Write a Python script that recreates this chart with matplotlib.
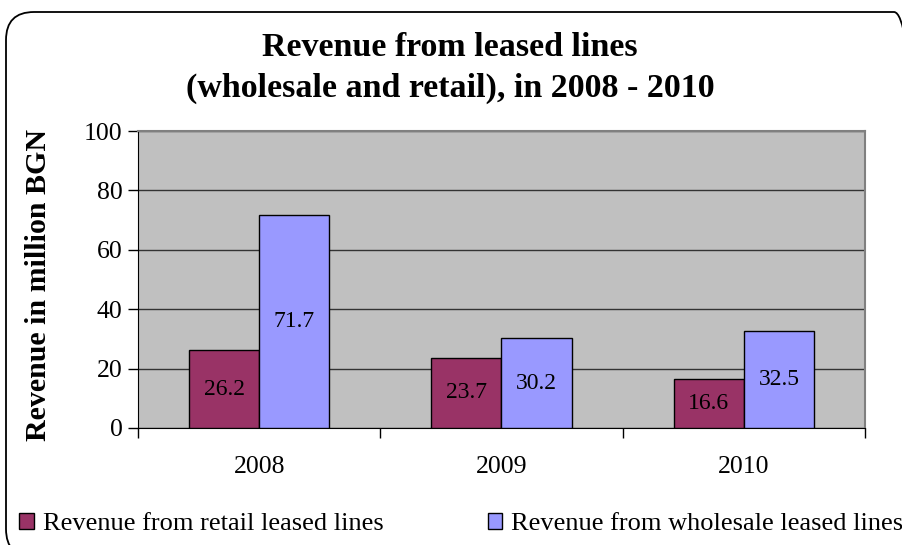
import matplotlib.pyplot as plt
from matplotlib.patches import FancyBboxPatch, Patch
from matplotlib.transforms import IdentityTransform
import numpy as np

years = ["2008", "2009", "2010"]
retail = [26.2, 23.7, 16.6]
wholesale = [71.7, 30.2, 32.5]
series_names = ["Revenue from retail leased lines", "Revenue from wholesale leased lines"]

plt.rcParams['font.family'] = ['Liberation Serif', 'DejaVu Serif']

fig = plt.figure(figsize=(9.03, 5.45), dpi=100)
ax = fig.add_axes([138 / 903, 1 - 428 / 545, (865 - 138) / 903, (428 - 131) / 545])

# rounded frame around the whole chart (pixel coordinates, origin bottom-left)
frame = FancyBboxPatch((6, -12), 916, 545 - 12 + 12,
                       boxstyle="round,pad=0,rounding_size=28",
                       transform=IdentityTransform(), fill=False, ec="black", lw=1.3,
                       zorder=0)
fig.patches.append(frame)

x = np.arange(len(years))
w = 0.29
b1 = ax.bar(x - w / 2, retail, w, color="#993366", edgecolor="black", lw=1, zorder=3)
b2 = ax.bar(x + w / 2, wholesale, w, color="#9999FF", edgecolor="black", lw=1, zorder=3)
ax.bar_label(b1, labels=[f"{v}" for v in retail], label_type="center", fontsize=17)
ax.bar_label(b2, labels=[f"{v}" for v in wholesale], label_type="center", fontsize=17)

ax.set_facecolor("#C0C0C0")
ax.set_xlim(-0.5, 2.5)
ax.set_ylim(0, 100)
ax.set_yticks(range(0, 101, 20))
ax.yaxis.grid(True, color="#333333", lw=1, zorder=1)
ax.set_axisbelow(True)
ax.tick_params(axis="y", labelsize=18.5, length=7, width=1, direction="out", pad=4)

ax.set_xticks(x)
ax.set_xticklabels(years)
ax.set_xticks([-0.5, 0.5, 1.5, 2.5], minor=True)
ax.tick_params(axis="x", which="major", length=0, labelsize=18.5, pad=20)
ax.tick_params(axis="x", which="minor", length=7, width=1, direction="out")

for s in ["top", "right"]:
    ax.spines[s].set_color("#808080")
    ax.spines[s].set_linewidth(1.5)
ax.spines["left"].set_color("black")
ax.spines["bottom"].set_color("black")

ax.set_ylabel("Revenue in million BGN", fontsize=21.5, fontweight="bold")
ax.yaxis.set_label_coords((52 - 138) / 727, (428 - 285) / 297)
fig.text(450 / 903, 1 - 68 / 545, "Revenue from leased lines\n(wholesale and retail), in 2008 - 2010",
         ha="center", va="center", fontsize=24.5, fontweight="bold", linespacing=1.4)

handles = [Patch(facecolor="#993366", edgecolor="black"),
           Patch(facecolor="#9999FF", edgecolor="black")]
fig.legend(handles, series_names, loc="center left", bbox_to_anchor=(19 / 903, 1 - 524 / 545),
           ncol=2, frameon=False, fontsize=19, handlelength=0.55, handleheight=0.55,
           handletextpad=0.35, columnspacing=3.95, borderpad=0, borderaxespad=0)

fig.savefig("out.png", dpi=100)
